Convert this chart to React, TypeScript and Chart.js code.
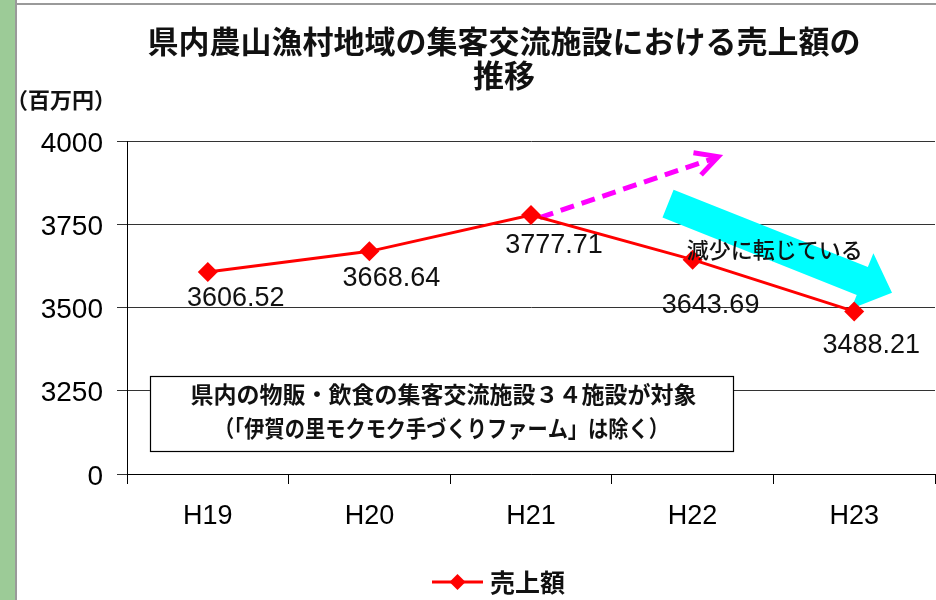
import React, { useEffect, useRef } from "react";
import { Chart, registerables } from "chart.js";

Chart.register(...registerables);

// ---- data ----
const categories = ["H19", "H20", "H21", "H22", "H23"];
const salesValues = [3606.52, 3668.64, 3777.71, 3643.69, 3488.21];
const seriesName = "売上額";
const yTickValues = [3000, 3250, 3500, 3750, 4000];
const yTickLabels = ["0", "3250", "3500", "3750", "4000"];
const titleLines = ["県内農山漁村地域の集客交流施設における売上額の", "推移"];
const unitLabel = "（百万円）";
const noteLines = [
  "県内の物販・飲食の集客交流施設３４施設が対象",
  "（「伊賀の里モクモク手づくりファーム」は除く）",
];
const trendText = "減少に転じている";

// ---- styling / placement (not data) ----
const labelOffsets: [number, number][] = [
  [28, 27],
  [22, 27],
  [23, 31],
  [18, 46],
  [17, 34],
];
const NUM_FONT = '"Liberation Sans", Arial, "Noto Sans CJK JP", sans-serif';
const JP_FONT = '"Noto Sans CJK JP", "Noto Sans", sans-serif';

// annotation anchors in axis units (category index, value)
const noteBox = { x1: -0.358, x2: 3.25, y1: 3294, y2: 3068 };
const upArrow = { x1: 2.055, y1: 3770, x2: 3.158, y2: 3953 };
const downArrow = { x1: 2.848, y1: 3812, x2: 4.234, y2: 3544 };
const trendTextPos = { x: 3.509, y: 3673 };

const overlayPlugin = {
  id: "overlay",
  beforeDraw(chart: any) {
    const ctx = chart.ctx;
    ctx.save();
    ctx.fillStyle = "#ffffff";
    ctx.fillRect(0, 0, chart.width, chart.height);
    ctx.fillStyle = "#9ccb97";
    ctx.fillRect(0, 0, 15, chart.height);
    ctx.strokeStyle = "#9a9a9a";
    ctx.lineWidth = 2;
    ctx.beginPath();
    ctx.moveTo(16, 0);
    ctx.lineTo(16, chart.height);
    ctx.moveTo(16, 4);
    ctx.lineTo(chart.width, 4);
    ctx.stroke();
    ctx.restore();
  },
  beforeDatasetsDraw(chart: any) {
    const ctx = chart.ctx;
    const xs = chart.scales.x;
    const ys = chart.scales.y;
    ctx.save();
    // note box
    const bx1 = xs.getPixelForValue(noteBox.x1);
    const bx2 = xs.getPixelForValue(noteBox.x2);
    const by1 = ys.getPixelForValue(noteBox.y1);
    const by2 = ys.getPixelForValue(noteBox.y2);
    ctx.fillStyle = "#ffffff";
    ctx.fillRect(bx1, by1, bx2 - bx1, by2 - by1);
    ctx.strokeStyle = "#000000";
    ctx.lineWidth = 1.2;
    ctx.strokeRect(Math.round(bx1) + 0.5, Math.round(by1) + 0.5, Math.round(bx2 - bx1), Math.round(by2 - by1));
    ctx.fillStyle = "#111111";
    ctx.font = `bold 23px ${JP_FONT}`;
    ctx.textAlign = "center";
    ctx.textBaseline = "middle";
    const cx = (bx1 + bx2) / 2;
    ctx.fillText(noteLines[0], cx + 2, by1 + 18, 510);
    ctx.fillText(noteLines[1], cx, by1 + 52, 455);

    // magenta dashed arrow
    const ax1 = xs.getPixelForValue(upArrow.x1);
    const ay1 = ys.getPixelForValue(upArrow.y1);
    const ax2 = xs.getPixelForValue(upArrow.x2);
    const ay2 = ys.getPixelForValue(upArrow.y2);
    ctx.strokeStyle = "#ff00ff";
    ctx.lineWidth = 5;
    ctx.setLineDash([14, 8]);
    ctx.beginPath();
    ctx.moveTo(ax1, ay1);
    ctx.lineTo(ax2 - 4, ay2 + 1.5);
    ctx.stroke();
    ctx.setLineDash([]);
    const ang = Math.atan2(ay2 - ay1, ax2 - ax1);
    const back = ang + Math.PI;
    const armLen = 25;
    const spread = (28 * Math.PI) / 180;
    ctx.lineJoin = "miter";
    ctx.beginPath();
    ctx.moveTo(ax2 + Math.cos(back + spread) * armLen, ay2 + Math.sin(back + spread) * armLen);
    ctx.lineTo(ax2, ay2);
    ctx.lineTo(ax2 + Math.cos(back - spread) * armLen, ay2 + Math.sin(back - spread) * armLen);
    ctx.stroke();

    // cyan block arrow
    const sx = xs.getPixelForValue(downArrow.x1);
    const sy = ys.getPixelForValue(downArrow.y1);
    const tx = xs.getPixelForValue(downArrow.x2);
    const ty = ys.getPixelForValue(downArrow.y2);
    const len = Math.hypot(tx - sx, ty - sy);
    const ux = (tx - sx) / len;
    const uy = (ty - sy) / len;
    const nx = -uy;
    const ny = ux;
    const bodyHalf = 15;
    const headHalf = 30;
    const headLen = 32;
    const bxp = tx - ux * headLen;
    const byp = ty - uy * headLen;
    ctx.fillStyle = "#00ffff";
    ctx.beginPath();
    ctx.moveTo(sx - nx * bodyHalf, sy - ny * bodyHalf);
    ctx.lineTo(bxp - nx * bodyHalf, byp - ny * bodyHalf);
    ctx.lineTo(bxp - nx * headHalf, byp - ny * headHalf);
    ctx.lineTo(tx, ty);
    ctx.lineTo(bxp + nx * headHalf, byp + ny * headHalf);
    ctx.lineTo(bxp + nx * bodyHalf, byp + ny * bodyHalf);
    ctx.lineTo(sx + nx * bodyHalf, sy + ny * bodyHalf);
    ctx.closePath();
    ctx.fill();
    ctx.restore();
  },
  afterDatasetsDraw(chart: any) {
    const ctx = chart.ctx;
    const xs = chart.scales.x;
    const ys = chart.scales.y;
    const meta = chart.getDatasetMeta(0);
    ctx.save();
    // trend text
    ctx.fillStyle = "#111111";
    ctx.font = `500 22px ${JP_FONT}`;
    ctx.textAlign = "center";
    ctx.textBaseline = "middle";
    ctx.fillText(trendText, xs.getPixelForValue(trendTextPos.x), ys.getPixelForValue(trendTextPos.y), 178);
    // data labels
    ctx.font = `27px ${NUM_FONT}`;
    meta.data.forEach((pt: any, i: number) => {
      const [dx, dy] = labelOffsets[i];
      ctx.fillText(salesValues[i].toFixed(2), pt.x + dx, pt.y + dy);
    });
    ctx.restore();
  },
  afterDraw(chart: any) {
    const ctx = chart.ctx;
    ctx.save();
    ctx.fillStyle = "#111111";
    ctx.textAlign = "center";
    ctx.textBaseline = "middle";
    ctx.font = `bold 31px ${JP_FONT}`;
    ctx.fillText(titleLines[0], 504, 41, 726);
    ctx.fillText(titleLines[1], 504, 75);
    ctx.font = `bold 22px ${JP_FONT}`;
    ctx.fillText(unitLabel, 61, 100);
    // legend
    const ly = 582;
    ctx.strokeStyle = "#ff0000";
    ctx.lineWidth = 3;
    ctx.beginPath();
    ctx.moveTo(432, ly);
    ctx.lineTo(483, ly);
    ctx.stroke();
    ctx.fillStyle = "#ff0000";
    ctx.beginPath();
    ctx.moveTo(457.5 - 8, ly);
    ctx.lineTo(457.5, ly - 8);
    ctx.lineTo(457.5 + 8, ly);
    ctx.lineTo(457.5, ly + 8);
    ctx.closePath();
    ctx.fill();
    ctx.fillStyle = "#111111";
    ctx.textAlign = "left";
    ctx.font = `bold 25px ${JP_FONT}`;
    ctx.fillText(seriesName, 490, ly);
    ctx.restore();
  },
};

export default function App() {
  const canvasRef = useRef<HTMLCanvasElement | null>(null);

  useEffect(() => {
    const canvas = canvasRef.current;
    if (!canvas) return;
    const chart = new Chart(canvas, {
      type: "line",
      data: {
        labels: categories,
        datasets: [
          {
            label: seriesName,
            data: salesValues,
            borderColor: "#ff0000",
            backgroundColor: "#ff0000",
            borderWidth: 3,
            pointStyle: "rectRot",
            pointRadius: 10,
            pointBorderWidth: 0,
            pointBackgroundColor: "#ff0000",
            tension: 0,
          },
        ],
      },
      options: {
        responsive: false,
        animation: false,
        layout: { autoPadding: false, padding: { top: 141, right: 1, left: 0, bottom: 0 } },
        plugins: {
          legend: { display: false },
          title: { display: false },
          tooltip: { enabled: false },
        },
        scales: {
          x: {
            type: "category",
            offset: true,
            grid: {
              offset: true,
              drawOnChartArea: false,
              drawTicks: true,
              tickLength: 10,
              color: "#000000",
              lineWidth: 1,
            },
            border: { display: true, color: "#000000", width: 1 },
            ticks: {
              color: "#000000",
              font: { family: NUM_FONT, size: 27 },
              padding: 16,
              maxRotation: 0,
            },
            afterFit: (scale: any) => {
              scale.height = 126;
              scale.paddingLeft = 0;
              scale.paddingRight = 0;
            },
          },
          y: {
            type: "linear",
            min: 3000,
            max: 4000,
            afterBuildTicks: (scale: any) => {
              scale.ticks = yTickValues.map((v) => ({ value: v }));
            },
            grid: {
              color: "#333333",
              lineWidth: 1,
              drawTicks: true,
              tickLength: 10,
            },
            border: { display: true, color: "#000000", width: 1 },
            ticks: {
              color: "#000000",
              font: { family: NUM_FONT, size: 28 },
              padding: 14,
              labelOffset: 3,
              callback: (value: any) => {
                const i = yTickValues.indexOf(Number(value));
                return i >= 0 ? yTickLabels[i] : "";
              },
            },
            afterFit: (scale: any) => {
              scale.width = 127;
              scale.paddingTop = 0;
              scale.paddingBottom = 0;
            },
          },
        },
      },
      plugins: [overlayPlugin],
    });
    return () => chart.destroy();
  }, []);

  return (
    <div style={{ position: "fixed", left: 0, top: 0, width: 936, height: 600, background: "#fff" }}>
      <canvas ref={canvasRef} width={936} height={600} style={{ display: "block" }} />
    </div>
  );
}
